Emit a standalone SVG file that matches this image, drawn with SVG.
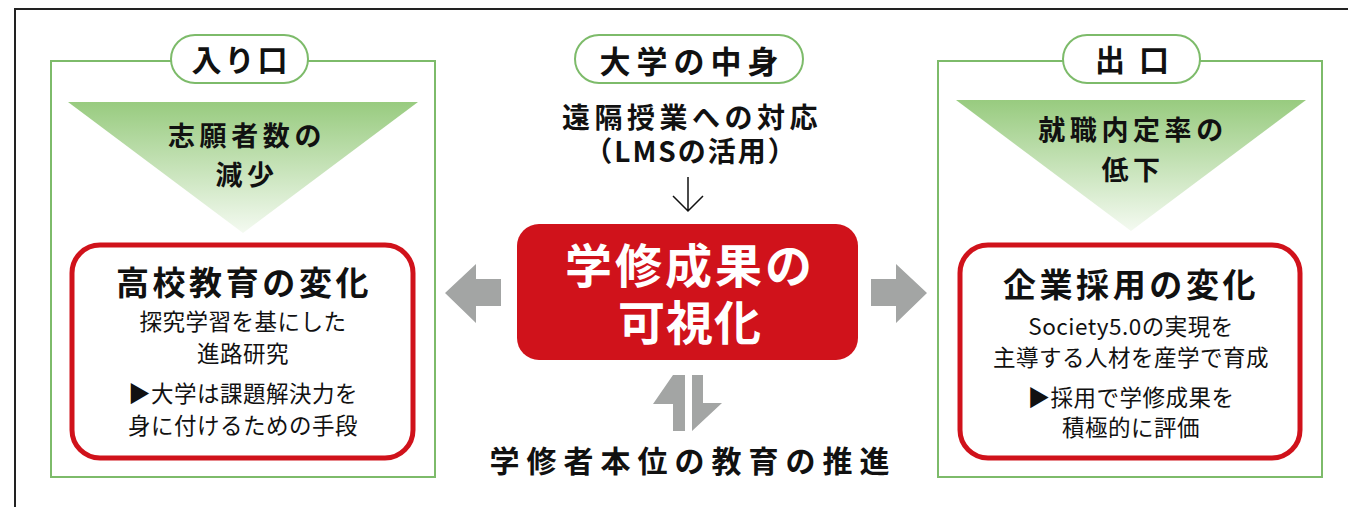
<svg xmlns="http://www.w3.org/2000/svg" width="1348" height="507" viewBox="0 0 1348 507">
<defs>
<linearGradient id="tri" x1="0" y1="0" x2="0" y2="1">
<stop offset="0" stop-color="#98cb7f"/>
<stop offset="1" stop-color="#f4faf1"/>
</linearGradient>
<style>
.t{font-family:"Noto Sans CJK JP","Noto Sans",sans-serif;fill:#111;text-anchor:middle}
.b{font-weight:700}
.panel{fill:none;stroke:#7dbb6a;stroke-width:2}
.pill{fill:#fff;stroke:#7dbb6a;stroke-width:2}
.rbox{fill:#fff;stroke:#d0121b;stroke-width:5}
.arr{fill:#a3a5a4}
.body{font-size:22.5px;letter-spacing:0.5px}
.lbl{font-size:30px;letter-spacing:3px}
.tri{font-size:27px;letter-spacing:4.6px}
.ttl{font-size:33px;letter-spacing:3.6px}
</style>
</defs>
<rect width="1348" height="507" fill="#fff"/>
<path d="M15,507 V9 H1348" fill="none" stroke="#222" stroke-width="2"/>

<g id="entrance">
<rect class="panel" x="51" y="61" width="384" height="416"/>
<rect class="pill" x="171" y="35" width="137" height="48" rx="24"/>
<text class="t b lbl" x="241" y="71">入り口</text>
<polygon points="68,102 418,102 243,233" fill="url(#tri)"/>
<text class="t b tri"><tspan x="247" y="146">志願者数の</tspan><tspan x="247" y="185">減少</tspan></text>
<rect class="rbox" x="72" y="245" width="341" height="213" rx="28"/>
<text class="t b ttl" x="244" y="295">高校教育の変化</text>
<text class="t body"><tspan x="243" y="330">探究学習を基にした</tspan><tspan x="243" y="362">進路研究</tspan></text>
<text class="t body"><tspan x="243" y="402">▶大学は課題解決力を</tspan><tspan x="243" y="434">身に付けるための手段</tspan></text>
</g>

<g id="university">
<rect class="pill" x="575" y="35" width="228" height="48" rx="24"/>
<text class="t b" x="692" y="73" style="font-size:31px;letter-spacing:6px">大学の中身</text>
<text class="t b" style="font-size:28px"><tspan x="692" y="128" style="letter-spacing:4.5px">遠隔授業への対応</tspan><tspan x="691" y="162" style="letter-spacing:2px">（LMSの活用）</tspan></text>
</g>

<g id="visualization">
<rect x="517" y="224" width="341" height="136" rx="22" fill="#d0121b"/>
<text class="t b" style="font-size:47px;fill:#fff"><tspan x="690" y="283" style="letter-spacing:3px">学修成果の</tspan><tspan x="690" y="340" style="letter-spacing:1px">可視化</tspan></text>
</g>

<g id="learner">
<text class="t b" x="693" y="472" style="font-size:30px;letter-spacing:7px">学修者本位の教育の推進</text>
</g>

<g id="exit">
<rect class="panel" x="938" y="61" width="384" height="416"/>
<rect class="pill" x="1063" y="35" width="137" height="48" rx="24"/>
<text class="t b" x="1139" y="71" style="font-size:30px;letter-spacing:14px">出口</text>
<polygon points="956,100 1306,100 1131,231" fill="url(#tri)"/>
<text class="t b tri"><tspan x="1133" y="140">就職内定率の</tspan><tspan x="1133" y="180">低下</tspan></text>
<rect class="rbox" x="960" y="245" width="340" height="213" rx="28"/>
<text class="t b ttl" x="1131" y="297">企業採用の変化</text>
<text class="t body"><tspan x="1131" y="335">Society5.0の実現を</tspan><tspan x="1131" y="366">主導する人材を産学で育成</tspan></text>
<text class="t body"><tspan x="1131" y="406">▶採用で学修成果を</tspan><tspan x="1131" y="436">積極的に評価</tspan></text>
</g>

<g id="connectors">
<path d="M688,177 V211 M673,196 L688,211 L703,196" fill="none" stroke="#111" stroke-width="1.5"/>
<polygon class="arr" points="445,293 476,264 476,279 501,279 501,306 476,306 476,323"/>
<polygon class="arr" points="927,293 896,264 896,279 871,279 871,306 896,306 896,323"/>
<polygon class="arr" points="673,375 685,375 685,431 673,431 673,404 653,404"/>
<polygon class="arr" points="692,375 703,375 703,403 722,403 692,431"/>
</g>
</svg>
